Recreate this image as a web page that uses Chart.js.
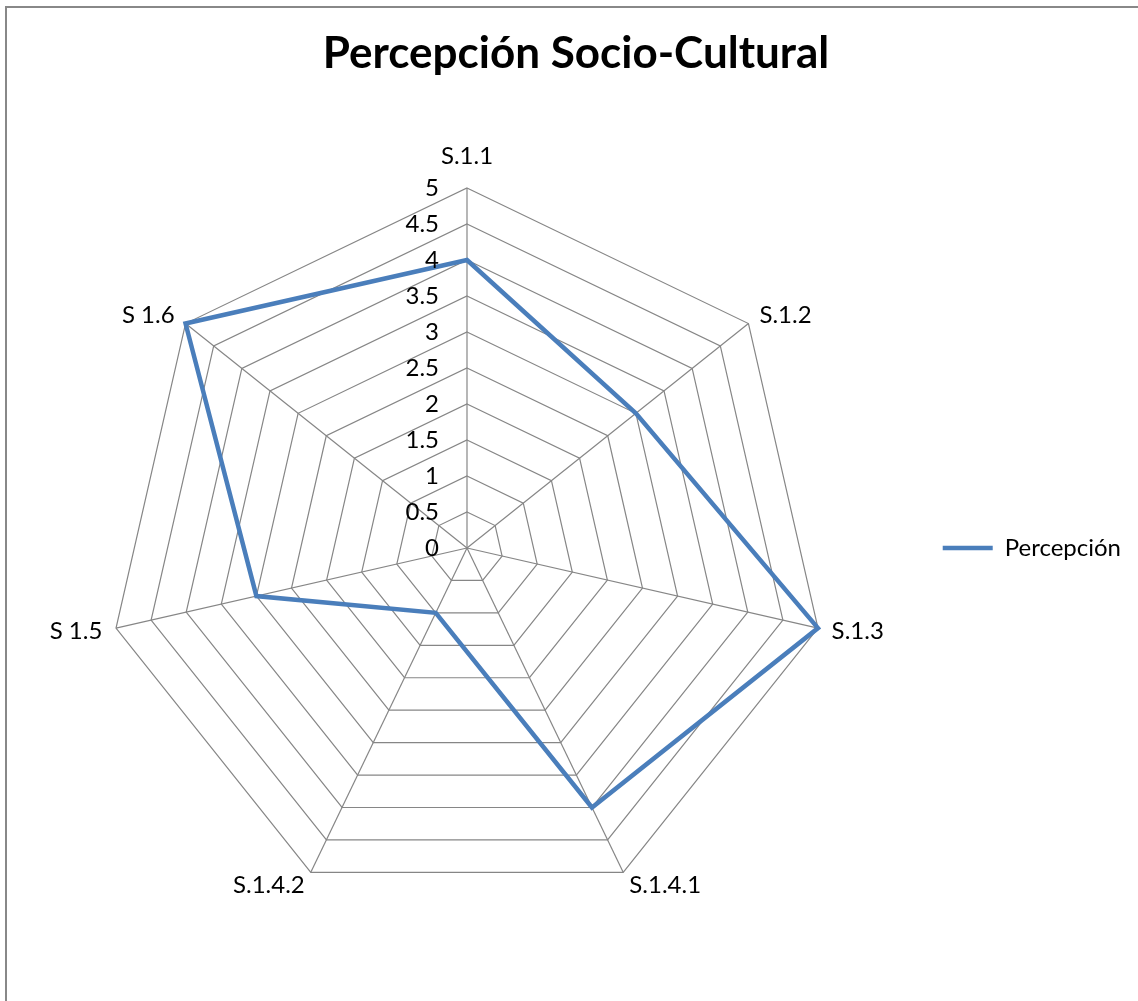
<!DOCTYPE html>
<html>
<head>
<meta charset="utf-8">
<script src="https://cdn.jsdelivr.net/npm/chart.js@4.4.1/dist/chart.umd.min.js"></script>
<style>
  html, body { margin: 0; padding: 0; background: #fff; overflow: hidden; }
  #frame { position: absolute; left: 5px; top: 6px; width: 1150px; height: 1010px; border: 2px solid #888; box-sizing: border-box; background: #fff; }
  #wrap { position: absolute; left: 1px; top: 1px; width: 1134px; height: 994px; }
</style>
</head>
<body>
<div id="frame"><div id="wrap"><canvas id="c"></canvas></div></div>
<script>
const titleText = 'Percepción Socio-Cultural';
const categories = ['S.1.1', 'S.1.2', 'S.1.3', 'S.1.4.1', 'S.1.4.2', 'S 1.5', 'S 1.6'];
const seriesName = 'Percepción';
const seriesValues = [4, 3, 5, 4, 1, 3, 5];
const axisMin = 0;
const axisMax = 5;
const axisStep = 0.5;

const FONT = 'Lato, "Open Sans", sans-serif';
const GRID = '#868686';
const LINE = '#4A7EBB';
const LABEL_SIZE = 24;

// Value labels drawn to the left of the vertical axis (Excel style)
const tickLabelPlugin = {
  id: 'leftTicks',
  afterDraw(chart) {
    const s = chart.scales.r;
    const ctx = chart.ctx;
    ctx.save();
    ctx.font = LABEL_SIZE + 'px ' + FONT;
    ctx.fillStyle = '#000';
    ctx.textAlign = 'right';
    ctx.textBaseline = 'middle';
    s.ticks.forEach(t => {
      const d = s.getDistanceFromCenterForValue(t.value);
      ctx.fillText(String(t.value), s.xCenter - 28, s.yCenter - d);
    });
    ctx.restore();
  }
};

// Category labels placed just outside each spoke (Excel style)
const pointLabelPlugin = {
  id: 'excelPointLabels',
  afterDraw(chart) {
    const s = chart.scales.r;
    const ctx = chart.ctx;
    const labels = chart.data.labels;
    ctx.save();
    ctx.font = LABEL_SIZE + 'px ' + FONT;
    ctx.fillStyle = '#000';
    ctx.textBaseline = 'middle';
    labels.forEach((lab, i) => {
      const p = s.getPointPosition(i, s.drawingArea + 14);
      const dx = p.x - s.xCenter;
      const dy = p.y - s.yCenter;
      let x = p.x, y = p.y;
      if (Math.abs(dx) < 5) {
        ctx.textAlign = 'center';
        y += (dy < 0 ? -1 : 1) * (LABEL_SIZE / 2 + 6);
      } else if (dx > 0) {
        ctx.textAlign = 'left';
      } else {
        ctx.textAlign = 'right';
      }
      ctx.fillText(lab, x, y);
    });
    ctx.restore();
  }
};

new Chart(document.getElementById('c'), {
  type: 'radar',
  data: {
    labels: categories,
    datasets: [{
      label: seriesName,
      data: seriesValues,
      borderColor: LINE,
      backgroundColor: LINE,
      borderWidth: 4.5,
      borderCapStyle: 'round',
      borderJoinStyle: 'miter',
      fill: false,
      pointRadius: 0,
      pointHoverRadius: 0,
      pointStyle: 'line',
      tension: 0
    }]
  },
  options: {
    responsive: true,
    maintainAspectRatio: false,
    animation: false,
    layout: { padding: { left: 13, right: 11, top: 0, bottom: 95 } },
    plugins: {
      title: {
        display: true,
        text: titleText,
        color: '#000',
        font: { family: FONT, size: 44, weight: 'bold', lineHeight: 1.2 },
        padding: { top: 18, bottom: 108.2 }
      },
      legend: {
        display: true,
        position: 'right',
        fullSize: false,
        labels: {
          usePointStyle: true,
          pointStyle: 'line',
          pointStyleWidth: 50,
          color: '#000',
          font: { family: FONT, size: LABEL_SIZE },
          padding: 29
        }
      },
      tooltip: { enabled: false }
    },
    scales: {
      r: {
        min: axisMin,
        max: axisMax,
        beginAtZero: true,
        ticks: { stepSize: axisStep, display: false },
        grid: { color: GRID, lineWidth: 1.2 },
        angleLines: { color: GRID, lineWidth: 1.2 },
        pointLabels: { display: false }
      }
    }
  },
  plugins: [tickLabelPlugin, pointLabelPlugin]
});
</script>
</body>
</html>
